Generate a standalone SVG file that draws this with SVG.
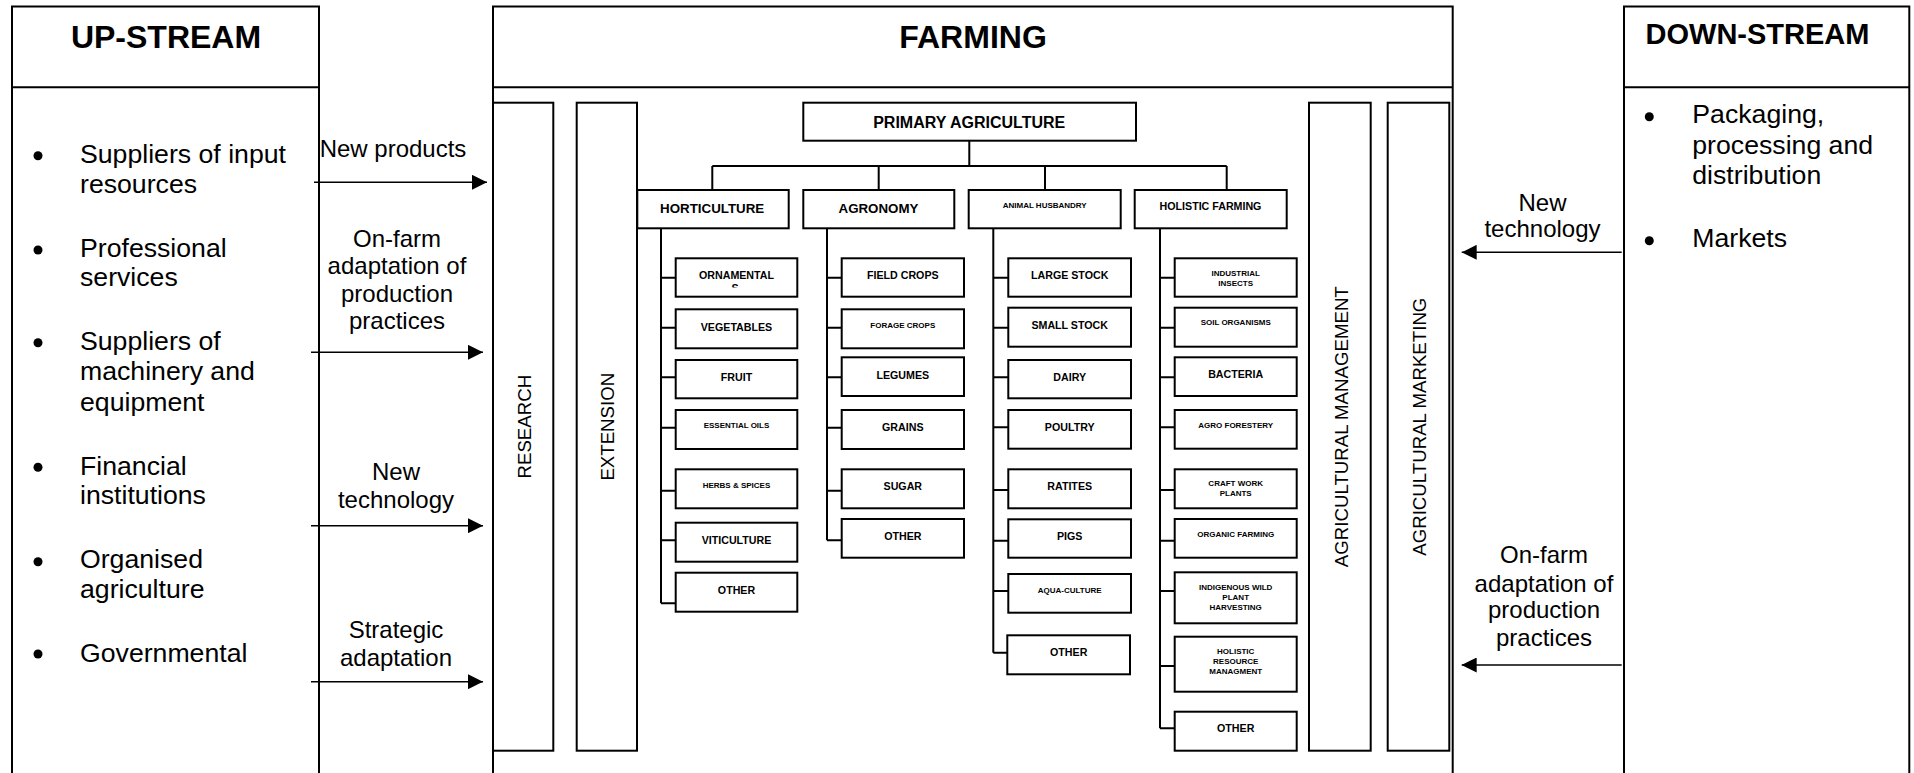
<svg xmlns="http://www.w3.org/2000/svg" width="1914" height="773" viewBox="0 0 1914 773">
<style>
.bx{fill:#fff;stroke:#000;stroke-width:2}
.ln{fill:none;stroke:#000;stroke-width:2}
.ar{fill:none;stroke:#000;stroke-width:1.5;marker-end:url(#ah)}
text{font-family:"Liberation Sans",Arial,sans-serif;fill:#000}
.ttl{font-size:32px;font-weight:bold;text-anchor:middle}
.bul{font-size:26.67px}
.lab{font-size:24px;text-anchor:middle}
.vt{font-size:18.67px;text-anchor:middle}
.c16{font-size:16px;font-weight:bold;text-anchor:middle}
.c10{font-size:13.33px;font-weight:bold;text-anchor:middle}
.c8{font-size:10.67px;font-weight:bold;text-anchor:middle}
.c6{font-size:8px;font-weight:bold;text-anchor:middle}
</style>
<defs>
<marker id="ah" viewBox="0 0 15 15" refX="15" refY="7.5" markerWidth="15" markerHeight="15" markerUnits="userSpaceOnUse" orient="auto"><path d="M0,0 L15,7.5 L0,15 Z" fill="#000"/></marker>
<clipPath id="orncl"><rect x="676" y="259" width="120" height="28.5"/></clipPath>
</defs>
<rect width="1914" height="773" fill="#fff"/>

<g id="upstream">
<rect class="bx" x="12" y="6.5" width="307" height="800"/>
<line class="ln" x1="12" y1="87.3" x2="319" y2="87.3"/>
<text class="ttl" x="166" y="48.3">UP-STREAM</text>
<g fill="#000"><circle cx="38" cy="155.7" r="4.5"/><circle cx="38" cy="250" r="4.5"/><circle cx="38" cy="342.7" r="4.5"/><circle cx="38" cy="467.3" r="4.5"/><circle cx="38" cy="561.7" r="4.5"/><circle cx="38" cy="654" r="4.5"/></g>
<text class="bul" x="80" y="163.3">Suppliers of input<tspan x="80" dy="29.7">resources</tspan></text>
<text class="bul" x="80" y="256.7">Professional<tspan x="80" dy="29.5">services</tspan></text>
<text class="bul" x="80" y="350">Suppliers of<tspan x="80" dy="30.3">machinery and</tspan><tspan x="80" dy="30.3">equipment</tspan></text>
<text class="bul" x="80" y="475">Financial<tspan x="80" dy="29.3">institutions</tspan></text>
<text class="bul" x="80" y="568.3">Organised<tspan x="80" dy="30">agriculture</tspan></text>
<text class="bul" x="80" y="661.7">Governmental</text>
</g>

<g id="farming">
<rect class="bx" x="493" y="6.5" width="959.7" height="800"/>
<line class="ln" x1="493" y1="87.3" x2="1452.7" y2="87.3"/>
<text class="ttl" x="973" y="48.3">FARMING</text>
</g>

<g id="downstream">
<rect class="bx" x="1624" y="6.5" width="285.3" height="800"/>
<line class="ln" x1="1624" y1="87.3" x2="1909.3" y2="87.3"/>
<text class="ttl" style="font-size:29px" x="1757.5" y="44.3">DOWN-STREAM</text>
<g fill="#000"><circle cx="1649.3" cy="116.7" r="4.5"/><circle cx="1649.3" cy="240.7" r="4.5"/></g>
<text class="bul" x="1692.3" y="122.7">Packaging,<tspan x="1692.3" dy="30.8">processing and</tspan><tspan x="1692.3" dy="30.8">distribution</tspan></text>
<text class="bul" x="1692.3" y="246.7">Markets</text>
</g>

<g id="research"><rect class="bx" x="493" y="102.7" width="60.3" height="648"/><text class="vt" transform="translate(530.5,426.7) rotate(-90)">RESEARCH</text></g>
<g id="extension"><rect class="bx" x="576.7" y="102.7" width="60.3" height="648"/><text class="vt" transform="translate(614,426.7) rotate(-90)">EXTENSION</text></g>
<g id="agr-management"><rect class="bx" x="1309" y="102.7" width="61.7" height="648"/><text class="vt" transform="translate(1347.5,426.7) rotate(-90)">AGRICULTURAL MANAGEMENT</text></g>
<g id="agr-marketing"><rect class="bx" x="1387.7" y="102.7" width="61.6" height="648"/><text class="vt" transform="translate(1425.7,426.7) rotate(-90)">AGRICULTURAL MARKETING</text></g>

<g id="primary"><rect class="bx" x="803.3" y="102.7" width="332.7" height="38"/><text class="c16" x="969.2" y="128.3">PRIMARY AGRICULTURE</text></g>
<g id="horticulture"><rect class="bx" x="637.3" y="190" width="151.4" height="38.3"/><text class="c10" x="712.2" y="213.3">HORTICULTURE</text></g>
<g id="agronomy"><rect class="bx" x="803.3" y="190" width="151" height="38.3"/><text class="c10" x="878.5" y="213.3">AGRONOMY</text></g>
<g id="animal"><rect class="bx" x="968.7" y="190" width="152" height="38.3"/><text class="c6" x="1044.7" y="208.3">ANIMAL HUSBANDRY</text></g>
<g id="holistic"><rect class="bx" x="1134.7" y="190" width="152" height="38.3"/><text class="c8" x="1210.5" y="210">HOLISTIC FARMING</text></g>

<g id="connectors">
<path class="ln" d="M969.3,140.7V166M712.3,166H1226.7M712.3,166V190M878.7,166V190M1045,166V190M1226.7,166V190"/>
<path class="ln" d="M661,228.3V603.3M661,277.7H675.7M661,327.7H675.7M661,377.3H675.7M661,427.7H675.7M661,490.7H675.7M661,540.3H675.7M661,603.3H675.7"/>
<path class="ln" d="M827,228.3V540.3M827,277.7H841.7M827,327.7H841.7M827,377.3H841.7M827,427.7H841.7M827,490.7H841.7M827,540.3H841.7"/>
<path class="ln" d="M993.3,228.3V652.7M993.3,277.7H1008.3M993.3,327.7H1008.3M993.3,377.3H1008.3M993.3,427.3H1008.3M993.3,490H1008.3M993.3,540.7H1008.3M993.3,591H1008.3M993.3,652.7H1008.3"/>
<path class="ln" d="M1160,228.3V728.3M1160,277.7H1174.7M1160,327.7H1174.7M1160,377.3H1174.7M1160,427.3H1174.7M1160,490H1174.7M1160,540.7H1174.7M1160,591H1174.7M1160,666H1174.7M1160,728.3H1174.7"/>
<line class="ar" x1="314" y1="182.3" x2="487" y2="182.3"/>
<line class="ar" x1="311" y1="352.3" x2="483" y2="352.3"/>
<line class="ar" x1="311" y1="525.7" x2="483" y2="525.7"/>
<line class="ar" x1="311" y1="681.7" x2="483" y2="681.7"/>
<line class="ar" x1="1621.7" y1="252.3" x2="1461.7" y2="252.3"/>
<line class="ar" x1="1621.7" y1="665" x2="1461.7" y2="665"/>
<text class="lab" x="393" y="157">New products</text>
<text class="lab" x="397" y="247.3">On-farm<tspan x="397" dy="27">adaptation of</tspan><tspan x="397" dy="27.3">production</tspan><tspan x="397" dy="27">practices</tspan></text>
<text class="lab" x="396" y="480">New<tspan x="396" dy="27.7">technology</tspan></text>
<text class="lab" x="396" y="638.3">Strategic<tspan x="396" dy="27.7">adaptation</tspan></text>
<text class="lab" x="1542.5" y="210.7">New<tspan x="1542.5" dy="26.6">technology</tspan></text>
<text class="lab" x="1544" y="563.3">On-farm<tspan x="1544" dy="28.2">adaptation of</tspan><tspan x="1544" dy="26.8">production</tspan><tspan x="1544" dy="27.7">practices</tspan></text>
</g>

<g id="h-ornamentals"><rect class="bx" x="675.7" y="258.3" width="121.6" height="38.4"/><text class="c8" x="736.5" y="279.3">ORNAMENTAL</text><text class="c8" x="735" y="292" clip-path="url(#orncl)">S</text></g>
<g id="h-vegetables"><rect class="bx" x="675.7" y="309.3" width="121.6" height="39"/><text class="c8" x="736.5" y="330.7">VEGETABLES</text></g>
<g id="h-fruit"><rect class="bx" x="675.7" y="360" width="121.6" height="38.3"/><text class="c8" x="736.5" y="381">FRUIT</text></g>
<g id="h-essential"><rect class="bx" x="675.7" y="410" width="121.6" height="39"/><text class="c6" x="736.5" y="427.7">ESSENTIAL OILS</text></g>
<g id="h-herbs"><rect class="bx" x="675.7" y="469.3" width="121.6" height="39"/><text class="c6" x="736.5" y="487.7">HERBS &amp; SPICES</text></g>
<g id="h-viticulture"><rect class="bx" x="675.7" y="522.7" width="121.6" height="39"/><text class="c8" x="736.5" y="543.7">VITICULTURE</text></g>
<g id="h-other"><rect class="bx" x="675.7" y="572.7" width="121.6" height="39"/><text class="c8" x="736.5" y="594">OTHER</text></g>

<g id="a-field"><rect class="bx" x="841.7" y="258.3" width="122.3" height="38.4"/><text class="c8" x="902.8" y="279.3">FIELD CROPS</text></g>
<g id="a-forage"><rect class="bx" x="841.7" y="309.3" width="122.3" height="39"/><text class="c6" x="902.8" y="327.7">FORAGE CROPS</text></g>
<g id="a-legumes"><rect class="bx" x="841.7" y="357.3" width="122.3" height="38.7"/><text class="c8" x="902.8" y="379">LEGUMES</text></g>
<g id="a-grains"><rect class="bx" x="841.7" y="410" width="122.3" height="39"/><text class="c8" x="902.8" y="430.7">GRAINS</text></g>
<g id="a-sugar"><rect class="bx" x="841.7" y="469.3" width="122.3" height="39"/><text class="c8" x="902.8" y="490">SUGAR</text></g>
<g id="a-other"><rect class="bx" x="841.7" y="519" width="122.3" height="38.7"/><text class="c8" x="902.8" y="540">OTHER</text></g>

<g id="n-large"><rect class="bx" x="1008.3" y="258.3" width="122.7" height="38.4"/><text class="c8" x="1069.7" y="279.3">LARGE STOCK</text></g>
<g id="n-small"><rect class="bx" x="1008.3" y="307.7" width="122.7" height="39"/><text class="c8" x="1069.7" y="329.3">SMALL STOCK</text></g>
<g id="n-dairy"><rect class="bx" x="1008.3" y="360" width="122.7" height="38.3"/><text class="c8" x="1069.7" y="381">DAIRY</text></g>
<g id="n-poultry"><rect class="bx" x="1008.3" y="410" width="122.7" height="38.7"/><text class="c8" x="1069.7" y="431">POULTRY</text></g>
<g id="n-ratites"><rect class="bx" x="1008.3" y="469.3" width="122.7" height="39"/><text class="c8" x="1069.7" y="490">RATITES</text></g>
<g id="n-pigs"><rect class="bx" x="1008.3" y="519.3" width="122.7" height="38.4"/><text class="c8" x="1069.7" y="540">PIGS</text></g>
<g id="n-aqua"><rect class="bx" x="1008.3" y="574" width="122.7" height="38.7"/><text class="c6" x="1069.7" y="592.7">AQUA-CULTURE</text></g>
<g id="n-other"><rect class="bx" x="1007.3" y="635.3" width="122.7" height="39"/><text class="c8" x="1068.7" y="656">OTHER</text></g>

<g id="f-insects"><rect class="bx" x="1174.7" y="258.3" width="122" height="38.4"/><text class="c6" x="1235.7" y="275.7">INDUSTRIAL<tspan x="1235.7" dy="10">INSECTS</tspan></text></g>
<g id="f-soil"><rect class="bx" x="1174.7" y="307.7" width="122" height="39"/><text class="c6" x="1235.7" y="325">SOIL ORGANISMS</text></g>
<g id="f-bacteria"><rect class="bx" x="1174.7" y="357.3" width="122" height="38.7"/><text class="c8" x="1235.7" y="378.3">BACTERIA</text></g>
<g id="f-agroforestery"><rect class="bx" x="1174.7" y="410" width="122" height="38.7"/><text class="c6" x="1235.7" y="428.3">AGRO FORESTERY</text></g>
<g id="f-craft"><rect class="bx" x="1174.7" y="469.3" width="122" height="39"/><text class="c6" x="1235.7" y="486">CRAFT WORK<tspan x="1235.7" dy="10">PLANTS</tspan></text></g>
<g id="f-organic"><rect class="bx" x="1174.7" y="519" width="122" height="38.7"/><text class="c6" x="1235.7" y="537">ORGANIC FARMING</text></g>
<g id="f-indigenous"><rect class="bx" x="1174.7" y="572.3" width="122" height="51"/><text class="c6" x="1235.7" y="590">INDIGENOUS WILD<tspan x="1235.7" dy="9.5">PLANT</tspan><tspan x="1235.7" dy="10">HARVESTING</tspan></text></g>
<g id="f-holistic-rm"><rect class="bx" x="1174.7" y="636.7" width="122" height="55"/><text class="c6" x="1235.7" y="654">HOLISTIC<tspan x="1235.7" dy="9.5">RESOURCE</tspan><tspan x="1235.7" dy="10">MANAGMENT</tspan></text></g>
<g id="f-other"><rect class="bx" x="1174.7" y="711.7" width="122" height="39"/><text class="c8" x="1235.7" y="731.7">OTHER</text></g>
</svg>
